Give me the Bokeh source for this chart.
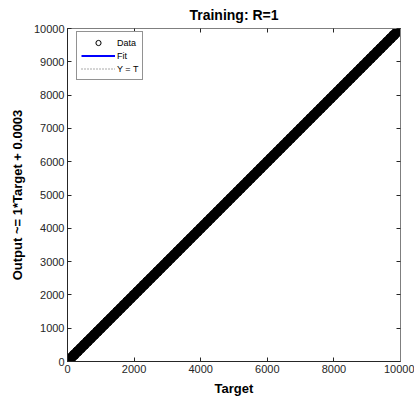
from bokeh.plotting import figure
from bokeh.models import Range1d, LinearAxis, Legend, LegendItem, FixedTicker
from bokeh.embed import file_html
from bokeh.resources import INLINE

# ---- data (Output ~= Target) ----
targets = [0, 100, 200, 300, 400, 500, 600, 700, 800, 900,
           1000, 1100, 1200, 1300, 1400, 1500, 1600, 1700, 1800, 1900,
           2000, 2100, 2200, 2300, 2400, 2500, 2600, 2700, 2800, 2900,
           3000, 3100, 3200, 3300, 3400, 3500, 3600, 3700, 3800, 3900,
           4000, 4100, 4200, 4300, 4400, 4500, 4600, 4700, 4800, 4900,
           5000, 5100, 5200, 5300, 5400, 5500, 5600, 5700, 5800, 5900,
           6000, 6100, 6200, 6300, 6400, 6500, 6600, 6700, 6800, 6900,
           7000, 7100, 7200, 7300, 7400, 7500, 7600, 7700, 7800, 7900,
           8000, 8100, 8200, 8300, 8400, 8500, 8600, 8700, 8800, 8900,
           9000, 9100, 9200, 9300, 9400, 9500, 9600, 9700, 9800, 9900,
           10000]
outputs = list(targets)  # R = 1: outputs coincide with targets
fit_slope = 1.0
fit_intercept = 0.0003
line_ends = [0, 10000]
x_ticks = [0, 2000, 4000, 6000, 8000, 10000]
y_ticks = [0, 1000, 2000, 3000, 4000, 5000, 6000, 7000, 8000, 9000, 10000]

FONT = "Liberation Sans"
AX = "#262626"

p = figure(frame_width=333, frame_height=333, output_backend="svg", toolbar_location=None,
           x_range=Range1d(0, 10000), y_range=Range1d(0, 10000),
           min_border_left=67, min_border_right=14, min_border_top=28,
           min_border_bottom=34, background_fill_color="white",
           border_fill_color="white")
p.grid.visible = False
p.outline_line_color = None

p.title.text = "Training: R=1"
p.title.align = "center"
p.title.vertical_align = "middle"
p.title.text_font = FONT
p.title.text_font_size = "14px"
p.title.text_font_style = "bold"
p.title.text_color = "black"

def style(ax, ticks, labels=True):
    ax.ticker = FixedTicker(ticks=ticks)
    ax.axis_line_color = AX
    ax.major_tick_line_color = AX
    ax.major_tick_in = 4
    ax.major_tick_out = 0
    ax.minor_tick_line_color = None
    ax.major_label_text_font = FONT
    ax.major_label_text_font_size = "11px"
    ax.major_label_text_color = AX if labels else None
    ax.major_label_standoff = 3 if labels else 0
    ax.axis_label_text_font = FONT
    ax.axis_label_text_font_size = "13px"
    ax.axis_label_text_font_style = "bold"
    ax.axis_label_text_color = "black"
    ax.axis_label_standoff = 5

style(p.xaxis[0], x_ticks)
style(p.yaxis[0], y_ticks)
p.xaxis.axis_label = "Target"
p.yaxis.axis_label = "Output ~= 1*Target + 0.0003"
p.yaxis.axis_label_standoff = 6

top = LinearAxis()
style(top, x_ticks, labels=False)
top.axis_line_color = "#7f7f7f"
p.add_layout(top, "above")
right = LinearAxis()
style(right, y_ticks, labels=False)
right.axis_line_color = "#7f7f7f"
p.add_layout(right, "right")

fit_y = [fit_slope * v + fit_intercept for v in line_ends]
r_yt = p.line(line_ends, line_ends, line_color="#555555", line_dash="1 2", line_width=1)
r_fit = p.line(line_ends, fit_y, line_color="#0000FF", line_width=2)
r_band = p.scatter(targets, outputs, marker="circle", size=10, fill_color="black",
                   line_color="black", line_width=1)
r_data = p.scatter(targets, outputs, marker="circle", size=8, fill_color=None,
                   line_color="black", line_width=1)

legend = Legend(items=[LegendItem(label="Data", renderers=[r_data]),
                       LegendItem(label="Fit", renderers=[r_fit]),
                       LegendItem(label="Y = T", renderers=[r_yt])],
                location=(9, 281))
legend.margin = 0
legend.padding = 4
legend.spacing = 0
legend.glyph_width = 34
legend.glyph_height = 13
legend.label_height = 13
legend.label_standoff = 2
legend.label_text_font = FONT
legend.label_text_font_size = "9px"
legend.label_text_color = "black"
legend.border_line_color = AX
legend.border_line_width = 1
legend.background_fill_color = "white"
legend.background_fill_alpha = 1
p.add_layout(legend, "center")

open("out.html", "w").write(file_html(p, INLINE))
